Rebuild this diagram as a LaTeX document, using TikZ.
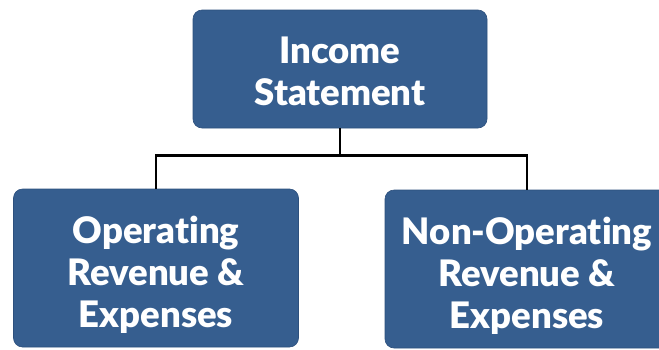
\documentclass[tikz,border=0pt]{standalone}
\usepackage{fontspec}
\setmainfont{Lato}
\newfontfamily\heavyfont[RawFeature=-liga]{Lato Black}
\definecolor{boxblue}{RGB}{54,94,143}
\definecolor{boxedge}{RGB}{45,80,125}
\begin{document}
\begin{tikzpicture}[x=1pt,y=-1pt,
  orgbox/.style={rectangle, rounded corners=9pt, fill=boxblue, draw=boxedge, line width=0.6pt, inner sep=0pt},
  boxtext/.style={text=white, font=\heavyfont\fontsize{36.5}{42}\selectfont, align=center, inner sep=0pt},
  link/.style={draw=black, line width=2.6pt}]
\useasboundingbox (0,0) rectangle (659,349);
\clip (0,0) rectangle (659,349);
\node[orgbox, minimum width=294pt, minimum height=118pt] (top) at (340,69) {};
\node[boxtext] (toptext) at (340,71) {Income\\Statement};
\node[orgbox, minimum width=285pt, minimum height=158pt] (left) at (156,268) {};
\node[boxtext] (lefttext) at (156,275) {Operating\\Revenue \&\\Expenses};
\node[orgbox, minimum width=284pt, minimum height=158pt] (right) at (527,269) {};
\node[boxtext] (righttext) at (527,276) {Non-Operating\\Revenue \&\\Expenses};
\draw[link] (top.south) -- ++(0,27) -| (left.north);
\draw[link] (top.south) -- ++(0,27) -| (right.north);
\end{tikzpicture}
\end{document}
